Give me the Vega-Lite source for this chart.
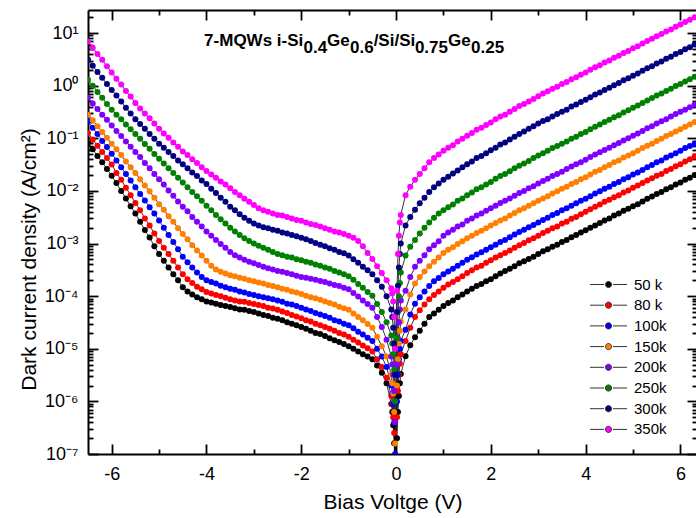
{
"$schema":"https://vega.github.io/schema/vega-lite/v6.json",
"width":609,"height":444,
"autosize":{"type":"none"},
"padding":{"left":88,"top":10,"right":0,"bottom":64},
"background":"white",
"config":{"view":{"stroke":null},"font":"Liberation Sans",
"axis":{"domainColor":"black","domainWidth":2,"tickColor":"black","tickWidth":1.8,"labelColor":"black","titleColor":"black","labelFont":"Liberation Sans","titleFont":"Liberation Sans","grid":false,"titleFontWeight":"normal"}},
"data":{"values":[
{"T":50,"V":-6.5,"J":8.1e-2},{"T":50,"V":-6.4,"J":6.2e-2},{"T":50,"V":-6.3,"J":4.6e-2},{"T":50,"V":-6.2,"J":3.5e-2},{"T":50,"V":-6.1,"J":2.6e-2},{"T":50,"V":-6,"J":1.95e-2},{"T":50,"V":-5.9,"J":1.41e-2},{"T":50,"V":-5.8,"J":1e-2},{"T":50,"V":-5.7,"J":7.2e-3},{"T":50,"V":-5.6,"J":5.1e-3},{"T":50,"V":-5.5,"J":3.7e-3},{"T":50,"V":-5.4,"J":2.6e-3},{"T":50,"V":-5.3,"J":1.8e-3},{"T":50,"V":-5.2,"J":1.3e-3},{"T":50,"V":-5.1,"J":8.9e-4},{"T":50,"V":-5,"J":6.3e-4},{"T":50,"V":-4.9,"J":4.7e-4},{"T":50,"V":-4.8,"J":3.5e-4},{"T":50,"V":-4.7,"J":2.6e-4},{"T":50,"V":-4.6,"J":2e-4},{"T":50,"V":-4.5,"J":1.48e-4},{"T":50,"V":-4.4,"J":1.23e-4},{"T":50,"V":-4.3,"J":1.07e-4},{"T":50,"V":-4.2,"J":9.5e-5},{"T":50,"V":-4.1,"J":8.7e-5},{"T":50,"V":-4,"J":7.9e-5},{"T":50,"V":-3.9,"J":7.6e-5},{"T":50,"V":-3.8,"J":7.2e-5},{"T":50,"V":-3.7,"J":6.8e-5},{"T":50,"V":-3.6,"J":6.5e-5},{"T":50,"V":-3.5,"J":6.2e-5},{"T":50,"V":-3.4,"J":5.9e-5},{"T":50,"V":-3.3,"J":5.6e-5},{"T":50,"V":-3.2,"J":5.5e-5},{"T":50,"V":-3.1,"J":5.2e-5},{"T":50,"V":-3,"J":5e-5},{"T":50,"V":-2.9,"J":4.7e-5},{"T":50,"V":-2.8,"J":4.4e-5},{"T":50,"V":-2.7,"J":4.2e-5},{"T":50,"V":-2.6,"J":3.9e-5},{"T":50,"V":-2.5,"J":3.7e-5},{"T":50,"V":-2.4,"J":3.5e-5},{"T":50,"V":-2.3,"J":3.2e-5},{"T":50,"V":-2.2,"J":3e-5},{"T":50,"V":-2.1,"J":2.8e-5},{"T":50,"V":-2,"J":2.6e-5},{"T":50,"V":-1.9,"J":2.4e-5},{"T":50,"V":-1.8,"J":2.2e-5},{"T":50,"V":-1.7,"J":2e-5},{"T":50,"V":-1.6,"J":1.9e-5},{"T":50,"V":-1.5,"J":1.74e-5},{"T":50,"V":-1.4,"J":1.58e-5},{"T":50,"V":-1.3,"J":1.45e-5},{"T":50,"V":-1.2,"J":1.35e-5},{"T":50,"V":-1.1,"J":1.23e-5},{"T":50,"V":-1,"J":1.12e-5},{"T":50,"V":-0.9,"J":1e-5},{"T":50,"V":-0.8,"J":8.9e-6},{"T":50,"V":-0.7,"J":7.9e-6},{"T":50,"V":-0.6,"J":7.1e-6},{"T":50,"V":-0.5,"J":6.3e-6},{"T":50,"V":-0.4,"J":4.8e-6},{"T":50,"V":-0.3,"J":3.5e-6},{"T":50,"V":-0.2,"J":2.2e-6},{"T":50,"V":-0.1,"J":8.9e-7},{"T":50,"V":-0.08,"J":6.3e-7},{"T":50,"V":-0.06,"J":3.5e-7},{"T":50,"V":-0.04,"J":1.6e-7},{"T":50,"V":-0.02,"J":4e-8},{"T":50,"V":0.02,"J":2e-7},{"T":50,"V":0.04,"J":6.3e-7},{"T":50,"V":0.06,"J":1.26e-6},{"T":50,"V":0.08,"J":2.2e-6},{"T":50,"V":0.1,"J":3.3e-6},{"T":50,"V":0.2,"J":7.2e-6},{"T":50,"V":0.3,"J":1.17e-5},{"T":50,"V":0.4,"J":1.66e-5},{"T":50,"V":0.5,"J":2.2e-5},{"T":50,"V":0.6,"J":3e-5},{"T":50,"V":0.7,"J":4e-5},{"T":50,"V":0.8,"J":4.7e-5},{"T":50,"V":0.9,"J":5.5e-5},{"T":50,"V":1,"J":6.5e-5},{"T":50,"V":1.1,"J":7.4e-5},{"T":50,"V":1.2,"J":8.3e-5},{"T":50,"V":1.3,"J":9.5e-5},{"T":50,"V":1.4,"J":1.07e-4},{"T":50,"V":1.5,"J":1.23e-4},{"T":50,"V":1.6,"J":1.38e-4},{"T":50,"V":1.7,"J":1.55e-4},{"T":50,"V":1.8,"J":1.7e-4},{"T":50,"V":1.9,"J":1.91e-4},{"T":50,"V":2,"J":2.1e-4},{"T":50,"V":2.1,"J":2.4e-4},{"T":50,"V":2.2,"J":2.7e-4},{"T":50,"V":2.3,"J":3e-4},{"T":50,"V":2.4,"J":3.3e-4},{"T":50,"V":2.5,"J":3.7e-4},{"T":50,"V":2.6,"J":4.2e-4},{"T":50,"V":2.7,"J":4.6e-4},{"T":50,"V":2.8,"J":5.1e-4},{"T":50,"V":2.9,"J":5.6e-4},{"T":50,"V":3,"J":6.3e-4},{"T":50,"V":3.1,"J":7.1e-4},{"T":50,"V":3.2,"J":7.8e-4},{"T":50,"V":3.3,"J":8.7e-4},{"T":50,"V":3.4,"J":9.5e-4},{"T":50,"V":3.5,"J":1.07e-3},{"T":50,"V":3.6,"J":1.17e-3},{"T":50,"V":3.7,"J":1.32e-3},{"T":50,"V":3.8,"J":1.45e-3},{"T":50,"V":3.9,"J":1.62e-3},{"T":50,"V":4,"J":1.78e-3},{"T":50,"V":4.1,"J":2e-3},{"T":50,"V":4.2,"J":2.2e-3},{"T":50,"V":4.3,"J":2.45e-3},{"T":50,"V":4.4,"J":2.75e-3},{"T":50,"V":4.5,"J":3e-3},{"T":50,"V":4.6,"J":3.4e-3},{"T":50,"V":4.7,"J":3.7e-3},{"T":50,"V":4.8,"J":4.2e-3},{"T":50,"V":4.9,"J":4.6e-3},{"T":50,"V":5,"J":5.1e-3},{"T":50,"V":5.1,"J":5.6e-3},{"T":50,"V":5.2,"J":6.3e-3},{"T":50,"V":5.3,"J":7.1e-3},{"T":50,"V":5.4,"J":7.8e-3},{"T":50,"V":5.5,"J":8.7e-3},{"T":50,"V":5.6,"J":9.5e-3},{"T":50,"V":5.7,"J":1.07e-2},{"T":50,"V":5.8,"J":1.17e-2},{"T":50,"V":5.9,"J":1.32e-2},{"T":50,"V":6,"J":1.45e-2},{"T":50,"V":6.1,"J":1.62e-2},{"T":50,"V":6.2,"J":1.78e-2},{"T":50,"V":6.3,"J":2e-2},
{"T":80,"V":-6.5,"J":1.26e-1},{"T":80,"V":-6.4,"J":9.5e-2},{"T":80,"V":-6.3,"J":7.2e-2},{"T":80,"V":-6.2,"J":5.5e-2},{"T":80,"V":-6.1,"J":4.2e-2},{"T":80,"V":-6,"J":3.16e-2},{"T":80,"V":-5.9,"J":2.2e-2},{"T":80,"V":-5.8,"J":1.62e-2},{"T":80,"V":-5.7,"J":1.15e-2},{"T":80,"V":-5.6,"J":8.3e-3},{"T":80,"V":-5.5,"J":5.9e-3},{"T":80,"V":-5.4,"J":4.3e-3},{"T":80,"V":-5.3,"J":3e-3},{"T":80,"V":-5.2,"J":2.2e-3},{"T":80,"V":-5.1,"J":1.55e-3},{"T":80,"V":-5,"J":1.12e-3},{"T":80,"V":-4.9,"J":8.3e-4},{"T":80,"V":-4.8,"J":6.3e-4},{"T":80,"V":-4.7,"J":4.7e-4},{"T":80,"V":-4.6,"J":3.5e-4},{"T":80,"V":-4.5,"J":2.6e-4},{"T":80,"V":-4.4,"J":2.1e-4},{"T":80,"V":-4.3,"J":1.78e-4},{"T":80,"V":-4.2,"J":1.51e-4},{"T":80,"V":-4.1,"J":1.35e-4},{"T":80,"V":-4,"J":1.2e-4},{"T":80,"V":-3.9,"J":1.12e-4},{"T":80,"V":-3.8,"J":1.05e-4},{"T":80,"V":-3.7,"J":1e-4},{"T":80,"V":-3.6,"J":9.3e-5},{"T":80,"V":-3.5,"J":8.7e-5},{"T":80,"V":-3.4,"J":8.3e-5},{"T":80,"V":-3.3,"J":7.9e-5},{"T":80,"V":-3.2,"J":7.8e-5},{"T":80,"V":-3.1,"J":7.4e-5},{"T":80,"V":-3,"J":7.1e-5},{"T":80,"V":-2.9,"J":6.8e-5},{"T":80,"V":-2.8,"J":6.5e-5},{"T":80,"V":-2.7,"J":6e-5},{"T":80,"V":-2.6,"J":5.8e-5},{"T":80,"V":-2.5,"J":5.5e-5},{"T":80,"V":-2.4,"J":5.1e-5},{"T":80,"V":-2.3,"J":4.8e-5},{"T":80,"V":-2.2,"J":4.4e-5},{"T":80,"V":-2.1,"J":4.1e-5},{"T":80,"V":-2,"J":3.8e-5},{"T":80,"V":-1.9,"J":3.5e-5},{"T":80,"V":-1.8,"J":3.3e-5},{"T":80,"V":-1.7,"J":3e-5},{"T":80,"V":-1.6,"J":2.8e-5},{"T":80,"V":-1.5,"J":2.6e-5},{"T":80,"V":-1.4,"J":2.4e-5},{"T":80,"V":-1.3,"J":2.2e-5},{"T":80,"V":-1.2,"J":2e-5},{"T":80,"V":-1.1,"J":1.86e-5},{"T":80,"V":-1,"J":1.7e-5},{"T":80,"V":-0.9,"J":1.48e-5},{"T":80,"V":-0.8,"J":1.32e-5},{"T":80,"V":-0.7,"J":1.15e-5},{"T":80,"V":-0.6,"J":1.02e-5},{"T":80,"V":-0.5,"J":8.9e-6},{"T":80,"V":-0.4,"J":6.3e-6},{"T":80,"V":-0.3,"J":4.5e-6},{"T":80,"V":-0.2,"J":2.8e-6},{"T":80,"V":-0.1,"J":1.26e-6},{"T":80,"V":-0.08,"J":8.9e-7},{"T":80,"V":-0.06,"J":5e-7},{"T":80,"V":-0.04,"J":2.5e-7},{"T":80,"V":-0.02,"J":6.3e-8},{"T":80,"V":0.02,"J":5e-7},{"T":80,"V":0.04,"J":1.58e-6},{"T":80,"V":0.06,"J":3.2e-6},{"T":80,"V":0.08,"J":5.2e-6},{"T":80,"V":0.1,"J":7.9e-6},{"T":80,"V":0.2,"J":1.41e-5},{"T":80,"V":0.3,"J":2.5e-5},{"T":80,"V":0.4,"J":4e-5},{"T":80,"V":0.5,"J":5.4e-5},{"T":80,"V":0.6,"J":6.9e-5},{"T":80,"V":0.7,"J":8.7e-5},{"T":80,"V":0.8,"J":1.05e-4},{"T":80,"V":0.9,"J":1.23e-4},{"T":80,"V":1,"J":1.45e-4},{"T":80,"V":1.1,"J":1.66e-4},{"T":80,"V":1.2,"J":1.86e-4},{"T":80,"V":1.3,"J":2.1e-4},{"T":80,"V":1.4,"J":2.4e-4},{"T":80,"V":1.5,"J":2.75e-4},{"T":80,"V":1.6,"J":3.1e-4},{"T":80,"V":1.7,"J":3.5e-4},{"T":80,"V":1.8,"J":3.8e-4},{"T":80,"V":1.9,"J":4.3e-4},{"T":80,"V":2,"J":4.8e-4},{"T":80,"V":2.1,"J":5.4e-4},{"T":80,"V":2.2,"J":6e-4},{"T":80,"V":2.3,"J":6.6e-4},{"T":80,"V":2.4,"J":7.4e-4},{"T":80,"V":2.5,"J":8.3e-4},{"T":80,"V":2.6,"J":9.3e-4},{"T":80,"V":2.7,"J":1.02e-3},{"T":80,"V":2.8,"J":1.15e-3},{"T":80,"V":2.9,"J":1.26e-3},{"T":80,"V":3,"J":1.41e-3},{"T":80,"V":3.1,"J":1.58e-3},{"T":80,"V":3.2,"J":1.74e-3},{"T":80,"V":3.3,"J":1.95e-3},{"T":80,"V":3.4,"J":2.1e-3},{"T":80,"V":3.5,"J":2.4e-3},{"T":80,"V":3.6,"J":2.6e-3},{"T":80,"V":3.7,"J":2.95e-3},{"T":80,"V":3.8,"J":3.2e-3},{"T":80,"V":3.9,"J":3.6e-3},{"T":80,"V":4,"J":4e-3},{"T":80,"V":4.1,"J":4.5e-3},{"T":80,"V":4.2,"J":5e-3},{"T":80,"V":4.3,"J":5.5e-3},{"T":80,"V":4.4,"J":6.2e-3},{"T":80,"V":4.5,"J":6.8e-3},{"T":80,"V":4.6,"J":7.6e-3},{"T":80,"V":4.7,"J":8.3e-3},{"T":80,"V":4.8,"J":9.3e-3},{"T":80,"V":4.9,"J":1.02e-2},{"T":80,"V":5,"J":1.15e-2},{"T":80,"V":5.1,"J":1.26e-2},{"T":80,"V":5.2,"J":1.41e-2},{"T":80,"V":5.3,"J":1.58e-2},{"T":80,"V":5.4,"J":1.74e-2},{"T":80,"V":5.5,"J":1.95e-2},{"T":80,"V":5.6,"J":2.1e-2},{"T":80,"V":5.7,"J":2.4e-2},{"T":80,"V":5.8,"J":2.6e-2},{"T":80,"V":5.9,"J":2.95e-2},{"T":80,"V":6,"J":3.2e-2},{"T":80,"V":6.1,"J":3.6e-2},{"T":80,"V":6.2,"J":4e-2},{"T":80,"V":6.3,"J":4.5e-2},
{"T":100,"V":-6.5,"J":2.1e-1},{"T":100,"V":-6.4,"J":1.58e-1},{"T":100,"V":-6.3,"J":1.2e-1},{"T":100,"V":-6.2,"J":8.9e-2},{"T":100,"V":-6.1,"J":6.8e-2},{"T":100,"V":-6,"J":5.1e-2},{"T":100,"V":-5.9,"J":3.8e-2},{"T":100,"V":-5.8,"J":2.8e-2},{"T":100,"V":-5.7,"J":2.1e-2},{"T":100,"V":-5.6,"J":1.58e-2},{"T":100,"V":-5.5,"J":1.17e-2},{"T":100,"V":-5.4,"J":8.7e-3},{"T":100,"V":-5.3,"J":6.6e-3},{"T":100,"V":-5.2,"J":4.9e-3},{"T":100,"V":-5.1,"J":3.7e-3},{"T":100,"V":-5,"J":2.75e-3},{"T":100,"V":-4.9,"J":2e-3},{"T":100,"V":-4.8,"J":1.45e-3},{"T":100,"V":-4.7,"J":1.07e-3},{"T":100,"V":-4.6,"J":7.8e-4},{"T":100,"V":-4.5,"J":5.6e-4},{"T":100,"V":-4.4,"J":4.4e-4},{"T":100,"V":-4.3,"J":3.5e-4},{"T":100,"V":-4.2,"J":2.8e-4},{"T":100,"V":-4.1,"J":2.3e-4},{"T":100,"V":-4,"J":2e-4},{"T":100,"V":-3.9,"J":1.86e-4},{"T":100,"V":-3.8,"J":1.74e-4},{"T":100,"V":-3.7,"J":1.58e-4},{"T":100,"V":-3.6,"J":1.48e-4},{"T":100,"V":-3.5,"J":1.38e-4},{"T":100,"V":-3.4,"J":1.32e-4},{"T":100,"V":-3.3,"J":1.23e-4},{"T":100,"V":-3.2,"J":1.17e-4},{"T":100,"V":-3.1,"J":1.1e-4},{"T":100,"V":-3,"J":1.05e-4},{"T":100,"V":-2.9,"J":1e-4},{"T":100,"V":-2.8,"J":9.5e-5},{"T":100,"V":-2.7,"J":9.1e-5},{"T":100,"V":-2.6,"J":8.7e-5},{"T":100,"V":-2.5,"J":8.3e-5},{"T":100,"V":-2.4,"J":7.8e-5},{"T":100,"V":-2.3,"J":7.2e-5},{"T":100,"V":-2.2,"J":6.9e-5},{"T":100,"V":-2.1,"J":6.5e-5},{"T":100,"V":-2,"J":6e-5},{"T":100,"V":-1.9,"J":5.6e-5},{"T":100,"V":-1.8,"J":5.2e-5},{"T":100,"V":-1.7,"J":4.8e-5},{"T":100,"V":-1.6,"J":4.5e-5},{"T":100,"V":-1.5,"J":4.2e-5},{"T":100,"V":-1.4,"J":3.9e-5},{"T":100,"V":-1.3,"J":3.5e-5},{"T":100,"V":-1.2,"J":3.3e-5},{"T":100,"V":-1.1,"J":3e-5},{"T":100,"V":-1,"J":2.8e-5},{"T":100,"V":-0.9,"J":2.45e-5},{"T":100,"V":-0.8,"J":2.1e-5},{"T":100,"V":-0.7,"J":1.86e-5},{"T":100,"V":-0.6,"J":1.62e-5},{"T":100,"V":-0.5,"J":1.41e-5},{"T":100,"V":-0.4,"J":1e-5},{"T":100,"V":-0.3,"J":7.1e-6},{"T":100,"V":-0.2,"J":4.5e-6},{"T":100,"V":-0.1,"J":2e-6},{"T":100,"V":-0.08,"J":1.41e-6},{"T":100,"V":-0.06,"J":8.9e-7},{"T":100,"V":-0.04,"J":4e-7},{"T":100,"V":-0.02,"J":1e-7},{"T":100,"V":0.02,"J":1e-6},{"T":100,"V":0.04,"J":3.2e-6},{"T":100,"V":0.06,"J":6.3e-6},{"T":100,"V":0.08,"J":1e-5},{"T":100,"V":0.1,"J":1.41e-5},{"T":100,"V":0.2,"J":2.3e-5},{"T":100,"V":0.3,"J":4.5e-5},{"T":100,"V":0.4,"J":7.2e-5},{"T":100,"V":0.5,"J":9.5e-5},{"T":100,"V":0.6,"J":1.23e-4},{"T":100,"V":0.7,"J":1.55e-4},{"T":100,"V":0.8,"J":1.91e-4},{"T":100,"V":0.9,"J":2.2e-4},{"T":100,"V":1,"J":2.6e-4},{"T":100,"V":1.1,"J":2.95e-4},{"T":100,"V":1.2,"J":3.3e-4},{"T":100,"V":1.3,"J":3.8e-4},{"T":100,"V":1.4,"J":4.3e-4},{"T":100,"V":1.5,"J":4.9e-4},{"T":100,"V":1.6,"J":5.5e-4},{"T":100,"V":1.7,"J":6.2e-4},{"T":100,"V":1.8,"J":6.8e-4},{"T":100,"V":1.9,"J":7.6e-4},{"T":100,"V":2,"J":8.5e-4},{"T":100,"V":2.1,"J":9.5e-4},{"T":100,"V":2.2,"J":1.07e-3},{"T":100,"V":2.3,"J":1.17e-3},{"T":100,"V":2.4,"J":1.32e-3},{"T":100,"V":2.5,"J":1.48e-3},{"T":100,"V":2.6,"J":1.66e-3},{"T":100,"V":2.7,"J":1.82e-3},{"T":100,"V":2.8,"J":2.04e-3},{"T":100,"V":2.9,"J":2.24e-3},{"T":100,"V":3,"J":2.5e-3},{"T":100,"V":3.1,"J":2.8e-3},{"T":100,"V":3.2,"J":3.1e-3},{"T":100,"V":3.3,"J":3.5e-3},{"T":100,"V":3.4,"J":3.8e-3},{"T":100,"V":3.5,"J":4.3e-3},{"T":100,"V":3.6,"J":4.7e-3},{"T":100,"V":3.7,"J":5.2e-3},{"T":100,"V":3.8,"J":5.8e-3},{"T":100,"V":3.9,"J":6.5e-3},{"T":100,"V":4,"J":7.1e-3},{"T":100,"V":4.1,"J":7.9e-3},{"T":100,"V":4.2,"J":8.9e-3},{"T":100,"V":4.3,"J":9.8e-3},{"T":100,"V":4.4,"J":1.1e-2},{"T":100,"V":4.5,"J":1.2e-2},{"T":100,"V":4.6,"J":1.35e-2},{"T":100,"V":4.7,"J":1.48e-2},{"T":100,"V":4.8,"J":1.66e-2},{"T":100,"V":4.9,"J":1.82e-2},{"T":100,"V":5,"J":2.04e-2},{"T":100,"V":5.1,"J":2.24e-2},{"T":100,"V":5.2,"J":2.5e-2},{"T":100,"V":5.3,"J":2.8e-2},{"T":100,"V":5.4,"J":3.1e-2},{"T":100,"V":5.5,"J":3.5e-2},{"T":100,"V":5.6,"J":3.8e-2},{"T":100,"V":5.7,"J":4.3e-2},{"T":100,"V":5.8,"J":4.7e-2},{"T":100,"V":5.9,"J":5.2e-2},{"T":100,"V":6,"J":5.8e-2},{"T":100,"V":6.1,"J":6.5e-2},{"T":100,"V":6.2,"J":7.1e-2},{"T":100,"V":6.3,"J":7.9e-2},
{"T":150,"V":-6.5,"J":2.8e-1},{"T":150,"V":-6.4,"J":2.2e-1},{"T":150,"V":-6.3,"J":1.7e-1},{"T":150,"V":-6.2,"J":1.32e-1},{"T":150,"V":-6.1,"J":1.02e-1},{"T":150,"V":-6,"J":7.9e-2},{"T":150,"V":-5.9,"J":6.2e-2},{"T":150,"V":-5.8,"J":4.8e-2},{"T":150,"V":-5.7,"J":3.6e-2},{"T":150,"V":-5.6,"J":2.8e-2},{"T":150,"V":-5.5,"J":2.2e-2},{"T":150,"V":-5.4,"J":1.66e-2},{"T":150,"V":-5.3,"J":1.26e-2},{"T":150,"V":-5.2,"J":9.8e-3},{"T":150,"V":-5.1,"J":7.4e-3},{"T":150,"V":-5,"J":5.6e-3},{"T":150,"V":-4.9,"J":4.4e-3},{"T":150,"V":-4.8,"J":3.3e-3},{"T":150,"V":-4.7,"J":2.6e-3},{"T":150,"V":-4.6,"J":1.95e-3},{"T":150,"V":-4.5,"J":1.51e-3},{"T":150,"V":-4.4,"J":1.2e-3},{"T":150,"V":-4.3,"J":9.3e-4},{"T":150,"V":-4.2,"J":7.4e-4},{"T":150,"V":-4.1,"J":5.9e-4},{"T":150,"V":-4,"J":4.7e-4},{"T":150,"V":-3.9,"J":3.8e-4},{"T":150,"V":-3.8,"J":3.2e-4},{"T":150,"V":-3.7,"J":2.9e-4},{"T":150,"V":-3.6,"J":2.7e-4},{"T":150,"V":-3.5,"J":2.5e-4},{"T":150,"V":-3.4,"J":2.4e-4},{"T":150,"V":-3.3,"J":2.24e-4},{"T":150,"V":-3.2,"J":2.14e-4},{"T":150,"V":-3.1,"J":2e-4},{"T":150,"V":-3,"J":1.91e-4},{"T":150,"V":-2.9,"J":1.82e-4},{"T":150,"V":-2.8,"J":1.74e-4},{"T":150,"V":-2.7,"J":1.62e-4},{"T":150,"V":-2.6,"J":1.55e-4},{"T":150,"V":-2.5,"J":1.48e-4},{"T":150,"V":-2.4,"J":1.38e-4},{"T":150,"V":-2.3,"J":1.32e-4},{"T":150,"V":-2.2,"J":1.23e-4},{"T":150,"V":-2.1,"J":1.17e-4},{"T":150,"V":-2,"J":1.1e-4},{"T":150,"V":-1.9,"J":1.02e-4},{"T":150,"V":-1.8,"J":9.5e-5},{"T":150,"V":-1.7,"J":9.1e-5},{"T":150,"V":-1.6,"J":8.5e-5},{"T":150,"V":-1.5,"J":7.9e-5},{"T":150,"V":-1.4,"J":7.4e-5},{"T":150,"V":-1.3,"J":6.9e-5},{"T":150,"V":-1.2,"J":6.3e-5},{"T":150,"V":-1.1,"J":5.9e-5},{"T":150,"V":-1,"J":5.5e-5},{"T":150,"V":-0.9,"J":4.7e-5},{"T":150,"V":-0.8,"J":4e-5},{"T":150,"V":-0.7,"J":3.5e-5},{"T":150,"V":-0.6,"J":2.95e-5},{"T":150,"V":-0.5,"J":2.5e-5},{"T":150,"V":-0.4,"J":1.7e-5},{"T":150,"V":-0.3,"J":1.12e-5},{"T":150,"V":-0.2,"J":7.1e-6},{"T":150,"V":-0.1,"J":3.2e-6},{"T":150,"V":-0.08,"J":2.2e-6},{"T":150,"V":-0.06,"J":1.41e-6},{"T":150,"V":-0.04,"J":6.3e-7},{"T":150,"V":-0.02,"J":1.58e-7},{"T":150,"V":0.02,"J":2e-6},{"T":150,"V":0.04,"J":6.3e-6},{"T":150,"V":0.06,"J":1.26e-5},{"T":150,"V":0.08,"J":2.2e-5},{"T":150,"V":0.1,"J":3.3e-5},{"T":150,"V":0.2,"J":5.6e-5},{"T":150,"V":0.3,"J":1.07e-4},{"T":150,"V":0.4,"J":1.74e-4},{"T":150,"V":0.5,"J":2.3e-4},{"T":150,"V":0.6,"J":2.95e-4},{"T":150,"V":0.7,"J":3.7e-4},{"T":150,"V":0.8,"J":4.5e-4},{"T":150,"V":0.9,"J":5.4e-4},{"T":150,"V":1,"J":6.6e-4},{"T":150,"V":1.1,"J":7.6e-4},{"T":150,"V":1.2,"J":8.5e-4},{"T":150,"V":1.3,"J":9.8e-4},{"T":150,"V":1.4,"J":1.1e-3},{"T":150,"V":1.5,"J":1.26e-3},{"T":150,"V":1.6,"J":1.41e-3},{"T":150,"V":1.7,"J":1.58e-3},{"T":150,"V":1.8,"J":1.74e-3},{"T":150,"V":1.9,"J":1.95e-3},{"T":150,"V":2,"J":2.2e-3},{"T":150,"V":2.1,"J":2.45e-3},{"T":150,"V":2.2,"J":2.75e-3},{"T":150,"V":2.3,"J":3e-3},{"T":150,"V":2.4,"J":3.4e-3},{"T":150,"V":2.5,"J":3.8e-3},{"T":150,"V":2.6,"J":4.3e-3},{"T":150,"V":2.7,"J":4.7e-3},{"T":150,"V":2.8,"J":5.2e-3},{"T":150,"V":2.9,"J":5.8e-3},{"T":150,"V":3,"J":6.5e-3},{"T":150,"V":3.1,"J":7.2e-3},{"T":150,"V":3.2,"J":7.9e-3},{"T":150,"V":3.3,"J":8.9e-3},{"T":150,"V":3.4,"J":9.8e-3},{"T":150,"V":3.5,"J":1.1e-2},{"T":150,"V":3.6,"J":1.2e-2},{"T":150,"V":3.7,"J":1.35e-2},{"T":150,"V":3.8,"J":1.48e-2},{"T":150,"V":3.9,"J":1.66e-2},{"T":150,"V":4,"J":1.82e-2},{"T":150,"V":4.1,"J":2.04e-2},{"T":150,"V":4.2,"J":2.3e-2},{"T":150,"V":4.3,"J":2.5e-2},{"T":150,"V":4.4,"J":2.8e-2},{"T":150,"V":4.5,"J":3.1e-2},{"T":150,"V":4.6,"J":3.5e-2},{"T":150,"V":4.7,"J":3.8e-2},{"T":150,"V":4.8,"J":4.3e-2},{"T":150,"V":4.9,"J":4.7e-2},{"T":150,"V":5,"J":5.2e-2},{"T":150,"V":5.1,"J":5.8e-2},{"T":150,"V":5.2,"J":6.5e-2},{"T":150,"V":5.3,"J":7.2e-2},{"T":150,"V":5.4,"J":7.9e-2},{"T":150,"V":5.5,"J":8.9e-2},{"T":150,"V":5.6,"J":9.8e-2},{"T":150,"V":5.7,"J":1.1e-1},{"T":150,"V":5.8,"J":1.2e-1},{"T":150,"V":5.9,"J":1.35e-1},{"T":150,"V":6,"J":1.48e-1},{"T":150,"V":6.1,"J":1.66e-1},{"T":150,"V":6.2,"J":1.82e-1},{"T":150,"V":6.3,"J":2.04e-1},
{"T":200,"V":-6.5,"J":5.9e-1},{"T":200,"V":-6.4,"J":4.6e-1},{"T":200,"V":-6.3,"J":3.6e-1},{"T":200,"V":-6.2,"J":2.8e-1},{"T":200,"V":-6.1,"J":2.24e-1},{"T":200,"V":-6,"J":1.74e-1},{"T":200,"V":-5.9,"J":1.38e-1},{"T":200,"V":-5.8,"J":1.1e-1},{"T":200,"V":-5.7,"J":8.7e-2},{"T":200,"V":-5.6,"J":6.9e-2},{"T":200,"V":-5.5,"J":5.5e-2},{"T":200,"V":-5.4,"J":4.4e-2},{"T":200,"V":-5.3,"J":3.4e-2},{"T":200,"V":-5.2,"J":2.7e-2},{"T":200,"V":-5.1,"J":2.1e-2},{"T":200,"V":-5,"J":1.66e-2},{"T":200,"V":-4.9,"J":1.32e-2},{"T":200,"V":-4.8,"J":1.02e-2},{"T":200,"V":-4.7,"J":8.1e-3},{"T":200,"V":-4.6,"J":6.3e-3},{"T":200,"V":-4.5,"J":5e-3},{"T":200,"V":-4.4,"J":4.1e-3},{"T":200,"V":-4.3,"J":3.2e-3},{"T":200,"V":-4.2,"J":2.6e-3},{"T":200,"V":-4.1,"J":2.1e-3},{"T":200,"V":-4,"J":1.7e-3},{"T":200,"V":-3.9,"J":1.41e-3},{"T":200,"V":-3.8,"J":1.17e-3},{"T":200,"V":-3.7,"J":9.8e-4},{"T":200,"V":-3.6,"J":8.3e-4},{"T":200,"V":-3.5,"J":6.9e-4},{"T":200,"V":-3.4,"J":6e-4},{"T":200,"V":-3.3,"J":5.4e-4},{"T":200,"V":-3.2,"J":4.9e-4},{"T":200,"V":-3.1,"J":4.5e-4},{"T":200,"V":-3,"J":4.2e-4},{"T":200,"V":-2.9,"J":3.9e-4},{"T":200,"V":-2.8,"J":3.6e-4},{"T":200,"V":-2.7,"J":3.4e-4},{"T":200,"V":-2.6,"J":3.2e-4},{"T":200,"V":-2.5,"J":3e-4},{"T":200,"V":-2.4,"J":2.9e-4},{"T":200,"V":-2.3,"J":2.75e-4},{"T":200,"V":-2.2,"J":2.6e-4},{"T":200,"V":-2.1,"J":2.45e-4},{"T":200,"V":-2,"J":2.3e-4},{"T":200,"V":-1.9,"J":2.24e-4},{"T":200,"V":-1.8,"J":2.14e-4},{"T":200,"V":-1.7,"J":2.04e-4},{"T":200,"V":-1.6,"J":1.95e-4},{"T":200,"V":-1.5,"J":1.86e-4},{"T":200,"V":-1.4,"J":1.74e-4},{"T":200,"V":-1.3,"J":1.62e-4},{"T":200,"V":-1.2,"J":1.55e-4},{"T":200,"V":-1.1,"J":1.45e-4},{"T":200,"V":-1,"J":1.35e-4},{"T":200,"V":-0.9,"J":1.15e-4},{"T":200,"V":-0.8,"J":9.8e-5},{"T":200,"V":-0.7,"J":8.3e-5},{"T":200,"V":-0.6,"J":7.1e-5},{"T":200,"V":-0.5,"J":6e-5},{"T":200,"V":-0.4,"J":4e-5},{"T":200,"V":-0.3,"J":2.6e-5},{"T":200,"V":-0.2,"J":1.48e-5},{"T":200,"V":-0.1,"J":7.1e-6},{"T":200,"V":-0.08,"J":5e-6},{"T":200,"V":-0.06,"J":3.2e-6},{"T":200,"V":-0.04,"J":1.58e-6},{"T":200,"V":-0.02,"J":4e-7},{"T":200,"V":0.02,"J":5e-6},{"T":200,"V":0.04,"J":1.58e-5},{"T":200,"V":0.06,"J":3.2e-5},{"T":200,"V":0.08,"J":5.6e-5},{"T":200,"V":0.1,"J":8.3e-5},{"T":200,"V":0.2,"J":1.26e-4},{"T":200,"V":0.3,"J":2.3e-4},{"T":200,"V":0.4,"J":3.6e-4},{"T":200,"V":0.5,"J":4.7e-4},{"T":200,"V":0.6,"J":6e-4},{"T":200,"V":0.7,"J":7.8e-4},{"T":200,"V":0.8,"J":9.3e-4},{"T":200,"V":0.9,"J":1.1e-3},{"T":200,"V":1,"J":1.41e-3},{"T":200,"V":1.1,"J":1.62e-3},{"T":200,"V":1.2,"J":1.82e-3},{"T":200,"V":1.3,"J":2.1e-3},{"T":200,"V":1.4,"J":2.3e-3},{"T":200,"V":1.5,"J":2.7e-3},{"T":200,"V":1.6,"J":3e-3},{"T":200,"V":1.7,"J":3.4e-3},{"T":200,"V":1.8,"J":3.7e-3},{"T":200,"V":1.9,"J":4.2e-3},{"T":200,"V":2,"J":4.7e-3},{"T":200,"V":2.1,"J":5.2e-3},{"T":200,"V":2.2,"J":5.9e-3},{"T":200,"V":2.3,"J":6.5e-3},{"T":200,"V":2.4,"J":7.2e-3},{"T":200,"V":2.5,"J":8.1e-3},{"T":200,"V":2.6,"J":9.1e-3},{"T":200,"V":2.7,"J":1e-2},{"T":200,"V":2.8,"J":1.12e-2},{"T":200,"V":2.9,"J":1.23e-2},{"T":200,"V":3,"J":1.38e-2},{"T":200,"V":3.1,"J":1.55e-2},{"T":200,"V":3.2,"J":1.7e-2},{"T":200,"V":3.3,"J":1.91e-2},{"T":200,"V":3.4,"J":2.1e-2},{"T":200,"V":3.5,"J":2.3e-2},{"T":200,"V":3.6,"J":2.6e-2},{"T":200,"V":3.7,"J":2.9e-2},{"T":200,"V":3.8,"J":3.2e-2},{"T":200,"V":3.9,"J":3.5e-2},{"T":200,"V":4,"J":3.9e-2},{"T":200,"V":4.1,"J":4.4e-2},{"T":200,"V":4.2,"J":4.9e-2},{"T":200,"V":4.3,"J":5.4e-2},{"T":200,"V":4.4,"J":6e-2},{"T":200,"V":4.5,"J":6.6e-2},{"T":200,"V":4.6,"J":7.4e-2},{"T":200,"V":4.7,"J":8.1e-2},{"T":200,"V":4.8,"J":9.1e-2},{"T":200,"V":4.9,"J":1e-1},{"T":200,"V":5,"J":1.12e-1},{"T":200,"V":5.1,"J":1.23e-1},{"T":200,"V":5.2,"J":1.38e-1},{"T":200,"V":5.3,"J":1.55e-1},{"T":200,"V":5.4,"J":1.7e-1},{"T":200,"V":5.5,"J":1.91e-1},{"T":200,"V":5.6,"J":2.1e-1},{"T":200,"V":5.7,"J":2.3e-1},{"T":200,"V":5.8,"J":2.6e-1},{"T":200,"V":5.9,"J":2.9e-1},{"T":200,"V":6,"J":3.2e-1},{"T":200,"V":6.1,"J":3.5e-1},{"T":200,"V":6.2,"J":3.9e-1},{"T":200,"V":6.3,"J":4.4e-1},
{"T":250,"V":-6.5,"J":1.29},{"T":250,"V":-6.4,"J":1},{"T":250,"V":-6.3,"J":7.6e-1},{"T":250,"V":-6.2,"J":5.9e-1},{"T":250,"V":-6.1,"J":4.5e-1},{"T":250,"V":-6,"J":3.5e-1},{"T":250,"V":-5.9,"J":2.8e-1},{"T":250,"V":-5.8,"J":2.3e-1},{"T":250,"V":-5.7,"J":1.82e-1},{"T":250,"V":-5.6,"J":1.48e-1},{"T":250,"V":-5.5,"J":1.2e-1},{"T":250,"V":-5.4,"J":9.8e-2},{"T":250,"V":-5.3,"J":7.8e-2},{"T":250,"V":-5.2,"J":6.3e-2},{"T":250,"V":-5.1,"J":5e-2},{"T":250,"V":-5,"J":4.1e-2},{"T":250,"V":-4.9,"J":3.3e-2},{"T":250,"V":-4.8,"J":2.7e-2},{"T":250,"V":-4.7,"J":2.2e-2},{"T":250,"V":-4.6,"J":1.78e-2},{"T":250,"V":-4.5,"J":1.45e-2},{"T":250,"V":-4.4,"J":1.17e-2},{"T":250,"V":-4.3,"J":9.5e-3},{"T":250,"V":-4.2,"J":7.9e-3},{"T":250,"V":-4.1,"J":6.5e-3},{"T":250,"V":-4,"J":5.2e-3},{"T":250,"V":-3.9,"J":4.3e-3},{"T":250,"V":-3.8,"J":3.5e-3},{"T":250,"V":-3.7,"J":2.9e-3},{"T":250,"V":-3.6,"J":2.4e-3},{"T":250,"V":-3.5,"J":2e-3},{"T":250,"V":-3.4,"J":1.7e-3},{"T":250,"V":-3.3,"J":1.45e-3},{"T":250,"V":-3.2,"J":1.26e-3},{"T":250,"V":-3.1,"J":1.12e-3},{"T":250,"V":-3,"J":1e-3},{"T":250,"V":-2.9,"J":9.1e-4},{"T":250,"V":-2.8,"J":8.3e-4},{"T":250,"V":-2.7,"J":7.6e-4},{"T":250,"V":-2.6,"J":6.9e-4},{"T":250,"V":-2.5,"J":6.3e-4},{"T":250,"V":-2.4,"J":6e-4},{"T":250,"V":-2.3,"J":5.6e-4},{"T":250,"V":-2.2,"J":5.4e-4},{"T":250,"V":-2.1,"J":5e-4},{"T":250,"V":-2,"J":4.8e-4},{"T":250,"V":-1.9,"J":4.5e-4},{"T":250,"V":-1.8,"J":4.3e-4},{"T":250,"V":-1.7,"J":4e-4},{"T":250,"V":-1.6,"J":3.8e-4},{"T":250,"V":-1.5,"J":3.5e-4},{"T":250,"V":-1.4,"J":3.3e-4},{"T":250,"V":-1.3,"J":3e-4},{"T":250,"V":-1.2,"J":2.8e-4},{"T":250,"V":-1.1,"J":2.6e-4},{"T":250,"V":-1,"J":2.4e-4},{"T":250,"V":-0.9,"J":2.04e-4},{"T":250,"V":-0.8,"J":1.7e-4},{"T":250,"V":-0.7,"J":1.45e-4},{"T":250,"V":-0.6,"J":1.2e-4},{"T":250,"V":-0.5,"J":1.02e-4},{"T":250,"V":-0.4,"J":7.1e-5},{"T":250,"V":-0.3,"J":5e-5},{"T":250,"V":-0.2,"J":3.2e-5},{"T":250,"V":-0.1,"J":1.78e-5},{"T":250,"V":-0.08,"J":1.26e-5},{"T":250,"V":-0.06,"J":7.9e-6},{"T":250,"V":-0.04,"J":4e-6},{"T":250,"V":-0.02,"J":1e-6},{"T":250,"V":0.02,"J":1.58e-5},{"T":250,"V":0.04,"J":5e-5},{"T":250,"V":0.06,"J":1e-4},{"T":250,"V":0.08,"J":1.78e-4},{"T":250,"V":0.1,"J":2.8e-4},{"T":250,"V":0.2,"J":5.9e-4},{"T":250,"V":0.3,"J":8.7e-4},{"T":250,"V":0.4,"J":1.17e-3},{"T":250,"V":0.5,"J":1.55e-3},{"T":250,"V":0.6,"J":2e-3},{"T":250,"V":0.7,"J":2.5e-3},{"T":250,"V":0.8,"J":3.1e-3},{"T":250,"V":0.9,"J":3.7e-3},{"T":250,"V":1,"J":4.3e-3},{"T":250,"V":1.1,"J":4.9e-3},{"T":250,"V":1.2,"J":5.5e-3},{"T":250,"V":1.3,"J":6.5e-3},{"T":250,"V":1.4,"J":7.2e-3},{"T":250,"V":1.5,"J":8.3e-3},{"T":250,"V":1.6,"J":9.3e-3},{"T":250,"V":1.7,"J":1.07e-2},{"T":250,"V":1.8,"J":1.17e-2},{"T":250,"V":1.9,"J":1.32e-2},{"T":250,"V":2,"J":1.48e-2},{"T":250,"V":2.1,"J":1.7e-2},{"T":250,"V":2.2,"J":1.91e-2},{"T":250,"V":2.3,"J":2.1e-2},{"T":250,"V":2.4,"J":2.35e-2},{"T":250,"V":2.5,"J":2.7e-2},{"T":250,"V":2.6,"J":3e-2},{"T":250,"V":2.7,"J":3.3e-2},{"T":250,"V":2.8,"J":3.7e-2},{"T":250,"V":2.9,"J":4.2e-2},{"T":250,"V":3,"J":4.7e-2},{"T":250,"V":3.1,"J":5.2e-2},{"T":250,"V":3.2,"J":5.8e-2},{"T":250,"V":3.3,"J":6.5e-2},{"T":250,"V":3.4,"J":7.1e-2},{"T":250,"V":3.5,"J":7.9e-2},{"T":250,"V":3.6,"J":8.7e-2},{"T":250,"V":3.7,"J":9.8e-2},{"T":250,"V":3.8,"J":1.07e-1},{"T":250,"V":3.9,"J":1.2e-1},{"T":250,"V":4,"J":1.32e-1},{"T":250,"V":4.1,"J":1.48e-1},{"T":250,"V":4.2,"J":1.66e-1},{"T":250,"V":4.3,"J":1.82e-1},{"T":250,"V":4.4,"J":2.04e-1},{"T":250,"V":4.5,"J":2.24e-1},{"T":250,"V":4.6,"J":2.5e-1},{"T":250,"V":4.7,"J":2.75e-1},{"T":250,"V":4.8,"J":3.1e-1},{"T":250,"V":4.9,"J":3.4e-1},{"T":250,"V":5,"J":3.8e-1},{"T":250,"V":5.1,"J":4.2e-1},{"T":250,"V":5.2,"J":4.7e-1},{"T":250,"V":5.3,"J":5.2e-1},{"T":250,"V":5.4,"J":5.8e-1},{"T":250,"V":5.5,"J":6.5e-1},{"T":250,"V":5.6,"J":7.1e-1},{"T":250,"V":5.7,"J":7.9e-1},{"T":250,"V":5.8,"J":8.7e-1},{"T":250,"V":5.9,"J":9.8e-1},{"T":250,"V":6,"J":1.07},{"T":250,"V":6.1,"J":1.2},{"T":250,"V":6.2,"J":1.32},{"T":250,"V":6.3,"J":1.48},
{"T":300,"V":-6.5,"J":3.09},{"T":300,"V":-6.4,"J":2.4},{"T":300,"V":-6.3,"J":1.82},{"T":300,"V":-6.2,"J":1.41},{"T":300,"V":-6.1,"J":1.07},{"T":300,"V":-6,"J":8.3e-1},{"T":300,"V":-5.9,"J":6.5e-1},{"T":300,"V":-5.8,"J":5e-1},{"T":300,"V":-5.7,"J":3.8e-1},{"T":300,"V":-5.6,"J":2.95e-1},{"T":300,"V":-5.5,"J":2.3e-1},{"T":300,"V":-5.4,"J":1.86e-1},{"T":300,"V":-5.3,"J":1.51e-1},{"T":300,"V":-5.2,"J":1.2e-1},{"T":300,"V":-5.1,"J":9.8e-2},{"T":300,"V":-5,"J":7.9e-2},{"T":300,"V":-4.9,"J":6.6e-2},{"T":300,"V":-4.8,"J":5.5e-2},{"T":300,"V":-4.7,"J":4.6e-2},{"T":300,"V":-4.6,"J":3.8e-2},{"T":300,"V":-4.5,"J":3.2e-2},{"T":300,"V":-4.4,"J":2.7e-2},{"T":300,"V":-4.3,"J":2.24e-2},{"T":300,"V":-4.2,"J":1.91e-2},{"T":300,"V":-4.1,"J":1.58e-2},{"T":300,"V":-4,"J":1.35e-2},{"T":300,"V":-3.9,"J":1.1e-2},{"T":300,"V":-3.8,"J":9.1e-3},{"T":300,"V":-3.7,"J":7.4e-3},{"T":300,"V":-3.6,"J":6.2e-3},{"T":300,"V":-3.5,"J":5e-3},{"T":300,"V":-3.4,"J":4.3e-3},{"T":300,"V":-3.3,"J":3.6e-3},{"T":300,"V":-3.2,"J":3.1e-3},{"T":300,"V":-3.1,"J":2.7e-3},{"T":300,"V":-3,"J":2.4e-3},{"T":300,"V":-2.9,"J":2.2e-3},{"T":300,"V":-2.8,"J":2.04e-3},{"T":300,"V":-2.7,"J":1.95e-3},{"T":300,"V":-2.6,"J":1.82e-3},{"T":300,"V":-2.5,"J":1.74e-3},{"T":300,"V":-2.4,"J":1.62e-3},{"T":300,"V":-2.3,"J":1.55e-3},{"T":300,"V":-2.2,"J":1.45e-3},{"T":300,"V":-2.1,"J":1.38e-3},{"T":300,"V":-2,"J":1.29e-3},{"T":300,"V":-1.9,"J":1.2e-3},{"T":300,"V":-1.8,"J":1.12e-3},{"T":300,"V":-1.7,"J":1.02e-3},{"T":300,"V":-1.6,"J":9.5e-4},{"T":300,"V":-1.5,"J":8.9e-4},{"T":300,"V":-1.4,"J":8.1e-4},{"T":300,"V":-1.3,"J":7.6e-4},{"T":300,"V":-1.2,"J":6.9e-4},{"T":300,"V":-1.1,"J":6.5e-4},{"T":300,"V":-1,"J":5.9e-4},{"T":300,"V":-0.9,"J":5e-4},{"T":300,"V":-0.8,"J":4.3e-4},{"T":300,"V":-0.7,"J":3.6e-4},{"T":300,"V":-0.6,"J":3.1e-4},{"T":300,"V":-0.5,"J":2.6e-4},{"T":300,"V":-0.4,"J":2e-4},{"T":300,"V":-0.3,"J":1.51e-4},{"T":300,"V":-0.2,"J":1e-4},{"T":300,"V":-0.1,"J":5.6e-5},{"T":300,"V":-0.08,"J":4e-5},{"T":300,"V":-0.06,"J":2.5e-5},{"T":300,"V":-0.04,"J":1.26e-5},{"T":300,"V":-0.02,"J":3.2e-6},{"T":300,"V":0.02,"J":5e-5},{"T":300,"V":0.04,"J":1.58e-4},{"T":300,"V":0.06,"J":3.5e-4},{"T":300,"V":0.08,"J":6.3e-4},{"T":300,"V":0.1,"J":1e-3},{"T":300,"V":0.2,"J":2.2e-3},{"T":300,"V":0.3,"J":3.2e-3},{"T":300,"V":0.4,"J":4.4e-3},{"T":300,"V":0.5,"J":5.8e-3},{"T":300,"V":0.6,"J":7.4e-3},{"T":300,"V":0.7,"J":9.5e-3},{"T":300,"V":0.8,"J":1.17e-2},{"T":300,"V":0.9,"J":1.38e-2},{"T":300,"V":1,"J":1.62e-2},{"T":300,"V":1.1,"J":1.86e-2},{"T":300,"V":1.2,"J":2.14e-2},{"T":300,"V":1.3,"J":2.45e-2},{"T":300,"V":1.4,"J":2.8e-2},{"T":300,"V":1.5,"J":3.2e-2},{"T":300,"V":1.6,"J":3.6e-2},{"T":300,"V":1.7,"J":4.2e-2},{"T":300,"V":1.8,"J":4.6e-2},{"T":300,"V":1.9,"J":5.2e-2},{"T":300,"V":2,"J":5.9e-2},{"T":300,"V":2.1,"J":6.6e-2},{"T":300,"V":2.2,"J":7.6e-2},{"T":300,"V":2.3,"J":8.3e-2},{"T":300,"V":2.4,"J":9.5e-2},{"T":300,"V":2.5,"J":1.07e-1},{"T":300,"V":2.6,"J":1.2e-1},{"T":300,"V":2.7,"J":1.35e-1},{"T":300,"V":2.8,"J":1.51e-1},{"T":300,"V":2.9,"J":1.7e-1},{"T":300,"V":3,"J":1.91e-1},{"T":300,"V":3.1,"J":2.14e-1},{"T":300,"V":3.2,"J":2.3e-1},{"T":300,"V":3.3,"J":2.6e-1},{"T":300,"V":3.4,"J":2.9e-1},{"T":300,"V":3.5,"J":3.2e-1},{"T":300,"V":3.6,"J":3.5e-1},{"T":300,"V":3.7,"J":4e-1},{"T":300,"V":3.8,"J":4.4e-1},{"T":300,"V":3.9,"J":4.9e-1},{"T":300,"V":4,"J":5.4e-1},{"T":300,"V":4.1,"J":6e-1},{"T":300,"V":4.2,"J":6.8e-1},{"T":300,"V":4.3,"J":7.4e-1},{"T":300,"V":4.4,"J":8.3e-1},{"T":300,"V":4.5,"J":9.1e-1},{"T":300,"V":4.6,"J":1.02},{"T":300,"V":4.7,"J":1.12},{"T":300,"V":4.8,"J":1.26},{"T":300,"V":4.9,"J":1.38},{"T":300,"V":5,"J":1.55},{"T":300,"V":5.1,"J":1.7},{"T":300,"V":5.2,"J":1.91},{"T":300,"V":5.3,"J":2.14},{"T":300,"V":5.4,"J":2.34},{"T":300,"V":5.5,"J":2.63},{"T":300,"V":5.6,"J":2.88},{"T":300,"V":5.7,"J":3.24},{"T":300,"V":5.8,"J":3.55},{"T":300,"V":5.9,"J":3.98},{"T":300,"V":6,"J":4.37},{"T":300,"V":6.1,"J":4.9},{"T":300,"V":6.2,"J":5.37},{"T":300,"V":6.3,"J":6.03},
{"T":350,"V":-6.5,"J":6.92},{"T":350,"V":-6.4,"J":5.25},{"T":350,"V":-6.3,"J":3.98},{"T":350,"V":-6.2,"J":3.09},{"T":350,"V":-6.1,"J":2.34},{"T":350,"V":-6,"J":1.78},{"T":350,"V":-5.9,"J":1.35},{"T":350,"V":-5.8,"J":1.05},{"T":350,"V":-5.7,"J":7.9e-1},{"T":350,"V":-5.6,"J":6.2e-1},{"T":350,"V":-5.5,"J":4.7e-1},{"T":350,"V":-5.4,"J":3.7e-1},{"T":350,"V":-5.3,"J":2.95e-1},{"T":350,"V":-5.2,"J":2.4e-1},{"T":350,"V":-5.1,"J":1.91e-1},{"T":350,"V":-5,"J":1.51e-1},{"T":350,"V":-4.9,"J":1.23e-1},{"T":350,"V":-4.8,"J":1.02e-1},{"T":350,"V":-4.7,"J":8.3e-2},{"T":350,"V":-4.6,"J":6.9e-2},{"T":350,"V":-4.5,"J":5.6e-2},{"T":350,"V":-4.4,"J":4.8e-2},{"T":350,"V":-4.3,"J":4e-2},{"T":350,"V":-4.2,"J":3.4e-2},{"T":350,"V":-4.1,"J":2.8e-2},{"T":350,"V":-4,"J":2.4e-2},{"T":350,"V":-3.9,"J":2.04e-2},{"T":350,"V":-3.8,"J":1.78e-2},{"T":350,"V":-3.7,"J":1.51e-2},{"T":350,"V":-3.6,"J":1.32e-2},{"T":350,"V":-3.5,"J":1.12e-2},{"T":350,"V":-3.4,"J":9.5e-3},{"T":350,"V":-3.3,"J":8.3e-3},{"T":350,"V":-3.2,"J":7.1e-3},{"T":350,"V":-3.1,"J":6.2e-3},{"T":350,"V":-3,"J":5.4e-3},{"T":350,"V":-2.9,"J":4.7e-3},{"T":350,"V":-2.8,"J":4.3e-3},{"T":350,"V":-2.7,"J":4e-3},{"T":350,"V":-2.6,"J":3.7e-3},{"T":350,"V":-2.5,"J":3.5e-3},{"T":350,"V":-2.4,"J":3.4e-3},{"T":350,"V":-2.3,"J":3.2e-3},{"T":350,"V":-2.2,"J":3e-3},{"T":350,"V":-2.1,"J":2.8e-3},{"T":350,"V":-2,"J":2.7e-3},{"T":350,"V":-1.9,"J":2.5e-3},{"T":350,"V":-1.8,"J":2.34e-3},{"T":350,"V":-1.7,"J":2.24e-3},{"T":350,"V":-1.6,"J":2.1e-3},{"T":350,"V":-1.5,"J":1.95e-3},{"T":350,"V":-1.4,"J":1.82e-3},{"T":350,"V":-1.3,"J":1.7e-3},{"T":350,"V":-1.2,"J":1.62e-3},{"T":350,"V":-1.1,"J":1.51e-3},{"T":350,"V":-1,"J":1.41e-3},{"T":350,"V":-0.9,"J":1.29e-3},{"T":350,"V":-0.8,"J":1.12e-3},{"T":350,"V":-0.7,"J":8.9e-4},{"T":350,"V":-0.6,"J":6.6e-4},{"T":350,"V":-0.5,"J":5.1e-4},{"T":350,"V":-0.4,"J":3.7e-4},{"T":350,"V":-0.3,"J":2.75e-4},{"T":350,"V":-0.2,"J":2e-4},{"T":350,"V":-0.1,"J":1.41e-4},{"T":350,"V":-0.08,"J":1.12e-4},{"T":350,"V":-0.06,"J":7.9e-5},{"T":350,"V":-0.04,"J":4e-5},{"T":350,"V":-0.02,"J":1e-5},{"T":350,"V":0.02,"J":1.26e-4},{"T":350,"V":0.04,"J":6.3e-4},{"T":350,"V":0.06,"J":1.41e-3},{"T":350,"V":0.08,"J":2.5e-3},{"T":350,"V":0.1,"J":3.5e-3},{"T":350,"V":0.2,"J":8.3e-3},{"T":350,"V":0.3,"J":1.2e-2},{"T":350,"V":0.4,"J":1.62e-2},{"T":350,"V":0.5,"J":2.1e-2},{"T":350,"V":0.6,"J":2.7e-2},{"T":350,"V":0.7,"J":3.5e-2},{"T":350,"V":0.8,"J":4.2e-2},{"T":350,"V":0.9,"J":4.9e-2},{"T":350,"V":1,"J":5.8e-2},{"T":350,"V":1.1,"J":6.6e-2},{"T":350,"V":1.2,"J":7.4e-2},{"T":350,"V":1.3,"J":8.7e-2},{"T":350,"V":1.4,"J":9.8e-2},{"T":350,"V":1.5,"J":1.12e-1},{"T":350,"V":1.6,"J":1.26e-1},{"T":350,"V":1.7,"J":1.45e-1},{"T":350,"V":1.8,"J":1.58e-1},{"T":350,"V":1.9,"J":1.78e-1},{"T":350,"V":2,"J":2e-1},{"T":350,"V":2.1,"J":2.3e-1},{"T":350,"V":2.2,"J":2.6e-1},{"T":350,"V":2.3,"J":2.8e-1},{"T":350,"V":2.4,"J":3.2e-1},{"T":350,"V":2.5,"J":3.6e-1},{"T":350,"V":2.6,"J":4.1e-1},{"T":350,"V":2.7,"J":4.5e-1},{"T":350,"V":2.8,"J":5e-1},{"T":350,"V":2.9,"J":5.6e-1},{"T":350,"V":3,"J":6.3e-1},{"T":350,"V":3.1,"J":7.1e-1},{"T":350,"V":3.2,"J":7.8e-1},{"T":350,"V":3.3,"J":8.7e-1},{"T":350,"V":3.4,"J":9.5e-1},{"T":350,"V":3.5,"J":1.07},{"T":350,"V":3.6,"J":1.17},{"T":350,"V":3.7,"J":1.32},{"T":350,"V":3.8,"J":1.45},{"T":350,"V":3.9,"J":1.62},{"T":350,"V":4,"J":1.78},{"T":350,"V":4.1,"J":2},{"T":350,"V":4.2,"J":2.24},{"T":350,"V":4.3,"J":2.45},{"T":350,"V":4.4,"J":2.75},{"T":350,"V":4.5,"J":3.02},{"T":350,"V":4.6,"J":3.39},{"T":350,"V":4.7,"J":3.72},{"T":350,"V":4.8,"J":4.17},{"T":350,"V":4.9,"J":4.57},{"T":350,"V":5,"J":5.13},{"T":350,"V":5.1,"J":5.62},{"T":350,"V":5.2,"J":6.31},{"T":350,"V":5.3,"J":7.08},{"T":350,"V":5.4,"J":7.76},{"T":350,"V":5.5,"J":8.71},{"T":350,"V":5.6,"J":9.55},{"T":350,"V":5.7,"J":10.7},{"T":350,"V":5.8,"J":11.7},{"T":350,"V":5.9,"J":13.2},{"T":350,"V":6,"J":14.5},{"T":350,"V":6.1,"J":16.2},{"T":350,"V":6.2,"J":17.8},{"T":350,"V":6.3,"J":20}
]},
"layer":[
{"mark":{"type":"line","color":"black","strokeWidth":0.8,"clip":true},
 "encoding":{
  "x":{"field":"V","type":"quantitative","scale":{"domain":[-6.5,6.35],"nice":false,"zero":false},
   "axis":{"orient":"bottom","values":[-6,-5,-4,-3,-2,-1,0,1,2,3,4,5,6],"title":"Bias Voltge (V)","titleFontSize":21,"titlePadding":8,"labelFontSize":18,"labelPadding":21,
    "labelExpr":"datum.value % 2 == 0 ? (datum.value < 0 ? '-' : '') + abs(datum.value) : ''",
    "tickSize":{"condition":{"test":"datum.value % 2 == 0","value":-10},"value":-5}}},
  "y":{"field":"J","type":"quantitative","scale":{"type":"log","domain":[1e-7,27.4],"nice":false},
   "axis":{"orient":"left","values":[1e-7,2e-7,3e-7,4e-7,5e-7,6e-7,7e-7,8e-7,9e-7,1e-6,2e-6,3e-6,4e-6,5e-6,6e-6,7e-6,8e-6,9e-6,1e-5,2e-5,3e-5,4e-5,5e-5,6e-5,7e-5,8e-5,9e-5,1e-4,2e-4,3e-4,4e-4,5e-4,6e-4,7e-4,8e-4,9e-4,0.001,0.002,0.003,0.004,0.005,0.006,0.007,0.008,0.009,0.01,0.02,0.03,0.04,0.05,0.06,0.07,0.08,0.09,0.1,0.2,0.3,0.4,0.5,0.6,0.7,0.8,0.9,1,2,3,4,5,6,7,8,9,10,20],
    "title":"Dark current density  (A/cm²)","titleFontSize":21,"titlePadding":8,"titleX":-49,"titleY":249,"labelFontSize":18,"labelPadding":20,"labelOverlap":false,"labelFlush":false,
    "labelExpr":"abs(log(datum.value)/LN10 - round(log(datum.value)/LN10)) < 0.01 ? '10' + (round(log(datum.value)/LN10) < 0 ? '⁻' : '') + ['⁰','¹','²','³','⁴','⁵','⁶','⁷','⁸','⁹'][abs(round(log(datum.value)/LN10))] : ''",
    "tickSize":{"condition":{"test":"abs(log(datum.value)/LN10 - round(log(datum.value)/LN10)) < 0.01","value":-10},"value":-5}}},
  "detail":{"field":"T","type":"nominal"}}},
{"mark":{"type":"circle","size":36,"opacity":1,"clip":true},
 "encoding":{
  "x":{"field":"V","type":"quantitative","axis":null},
  "y":{"field":"J","type":"quantitative","axis":null},
  "color":{"field":"T","type":"nominal","scale":{"domain":[50,80,100,150,200,250,300,350],"range":["#000000","#ff0000","#0000ff","#ff8000","#8000ff","#008000","#000080","#ff00ff"]},
   "legend":{"orient":"none","legendX":513,"legendY":267,"title":null,"labelFontSize":15,"labelFont":"Liberation Sans","labelColor":"black","labelOffset":18,"rowPadding":4.7,
    "symbolType":"M-3.7,0H-0.9M0.9,0H3.7M-0.62,0A0.62,0.62,0,1,0,0.62,0A0.62,0.62,0,1,0,-0.62,0Z","symbolSize":100,"symbolStrokeColor":"#333333","symbolStrokeWidth":1,"symbolOpacity":1,
    "labelExpr":"datum.value < 100 ? datum.value + ' k' : datum.value + 'k'",
    "encode":{"symbols":{"update":{"stroke":{"value":"#333333"},"strokeWidth":{"value":1}}}}}}}},
{"data":{"values":[{}]},
 "mark":{"type":"text","align":"left","baseline":"alphabetic","font":"Liberation Sans","fontWeight":"bold","fontSize":17,"color":"black"},
 "encoding":{
  "x":{"datum":-4.05,"type":"quantitative","axis":{"orient":"top","labels":false,"title":null,"values":[-6,-5,-4,-3,-2,-1,0,1,2,3,4,5,6],"tickSize":{"condition":{"test":"datum.value % 2 == 0","value":-10},"value":-5}}},
  "y":{"datum":5.74,"type":"quantitative","axis":{"orient":"right","labels":false,"title":null,"values":[1e-7,2e-7,3e-7,4e-7,5e-7,6e-7,7e-7,8e-7,9e-7,1e-6,2e-6,3e-6,4e-6,5e-6,6e-6,7e-6,8e-6,9e-6,1e-5,2e-5,3e-5,4e-5,5e-5,6e-5,7e-5,8e-5,9e-5,1e-4,2e-4,3e-4,4e-4,5e-4,6e-4,7e-4,8e-4,9e-4,0.001,0.002,0.003,0.004,0.005,0.006,0.007,0.008,0.009,0.01,0.02,0.03,0.04,0.05,0.06,0.07,0.08,0.09,0.1,0.2,0.3,0.4,0.5,0.6,0.7,0.8,0.9,1,2,3,4,5,6,7,8,9,10,20],"tickSize":{"condition":{"test":"abs(log(datum.value)/LN10 - round(log(datum.value)/LN10)) < 0.01","value":-10},"value":-5}}},
  "text":{"value":"7-MQWs i-Si"}}},
{"data":{"values":[{}]},"mark":{"type":"text","align":"left","baseline":"alphabetic","font":"Liberation Sans","fontWeight":"bold","fontSize":17,"color":"black","dy":7.6},
 "encoding":{"x":{"datum":-1.952,"type":"quantitative","axis":null},"y":{"datum":5.74,"type":"quantitative","axis":null},"text":{"value":"0.4"}}},
{"data":{"values":[{}]},"mark":{"type":"text","align":"left","baseline":"alphabetic","font":"Liberation Sans","fontWeight":"bold","fontSize":17,"color":"black"},
 "encoding":{"x":{"datum":-1.455,"type":"quantitative","axis":null},"y":{"datum":5.74,"type":"quantitative","axis":null},"text":{"value":"Ge"}}},
{"data":{"values":[{}]},"mark":{"type":"text","align":"left","baseline":"alphabetic","font":"Liberation Sans","fontWeight":"bold","fontSize":17,"color":"black","dy":7.6},
 "encoding":{"x":{"datum":-0.971,"type":"quantitative","axis":null},"y":{"datum":5.74,"type":"quantitative","axis":null},"text":{"value":"0.6"}}},
{"data":{"values":[{}]},"mark":{"type":"text","align":"left","baseline":"alphabetic","font":"Liberation Sans","fontWeight":"bold","fontSize":17,"color":"black"},
 "encoding":{"x":{"datum":-0.473,"type":"quantitative","axis":null},"y":{"datum":5.74,"type":"quantitative","axis":null},"text":{"value":"/Si/Si"}}},
{"data":{"values":[{}]},"mark":{"type":"text","align":"left","baseline":"alphabetic","font":"Liberation Sans","fontWeight":"bold","fontSize":17,"color":"black","dy":7.6},
 "encoding":{"x":{"datum":0.398,"type":"quantitative","axis":null},"y":{"datum":5.74,"type":"quantitative","axis":null},"text":{"value":"0.75"}}},
{"data":{"values":[{}]},"mark":{"type":"text","align":"left","baseline":"alphabetic","font":"Liberation Sans","fontWeight":"bold","fontSize":17,"color":"black"},
 "encoding":{"x":{"datum":1.097,"type":"quantitative","axis":null},"y":{"datum":5.74,"type":"quantitative","axis":null},"text":{"value":"Ge"}}},
{"data":{"values":[{}]},"mark":{"type":"text","align":"left","baseline":"alphabetic","font":"Liberation Sans","fontWeight":"bold","fontSize":17,"color":"black","dy":7.6},
 "encoding":{"x":{"datum":1.582,"type":"quantitative","axis":null},"y":{"datum":5.74,"type":"quantitative","axis":null},"text":{"value":"0.25"}}}
],
"resolve":{"axis":{"x":"independent","y":"independent"}}
}
